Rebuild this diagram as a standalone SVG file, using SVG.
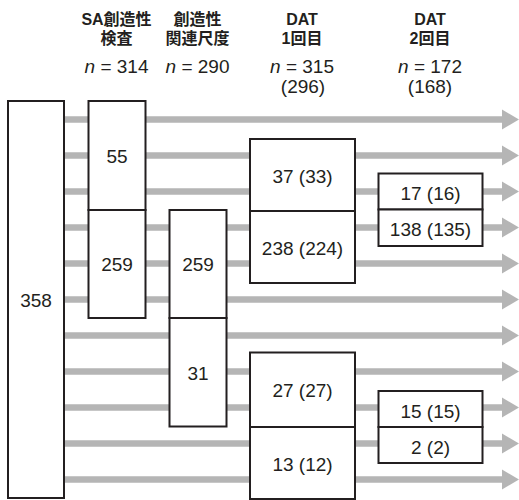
<svg xmlns="http://www.w3.org/2000/svg" width="519" height="500" viewBox="0 0 519 500">
<style>
.hd{font-family:"Liberation Sans","Noto Sans CJK JP",sans-serif;font-size:16px;font-weight:bold;fill:#231f20;text-anchor:middle}
.n{font-family:"Liberation Sans",sans-serif;font-size:19px;fill:#231f20;text-anchor:middle}
.lb{font-family:"Liberation Sans",sans-serif;font-size:19px;fill:#231f20;text-anchor:middle}
.bx{fill:#fff;stroke:#231f20;stroke-width:2}
.ln{stroke:#b5b5b5;stroke-width:6.5;fill:none;marker-end:url(#ah)}
</style>
<defs>
<marker id="ah" markerUnits="userSpaceOnUse" markerWidth="17" markerHeight="20" refX="0" refY="10" orient="auto" overflow="visible">
<path d="M0,0 L17,10 L0,20 Z" fill="#b5b5b5"/>
</marker>
</defs>
<rect width="519" height="500" fill="#fff"/>
<g id="headers">
<text class="hd" x="116.5" y="25">SA創造性</text>
<text class="hd" x="116.5" y="44">検査</text>
<text class="n" x="116.5" y="72.5"><tspan font-style="italic">n</tspan> = 314</text>
<text class="hd" x="197.5" y="25">創造性</text>
<text class="hd" x="197.5" y="44">関連尺度</text>
<text class="n" x="197.5" y="72.5"><tspan font-style="italic">n</tspan> = 290</text>
<text class="hd" x="302" y="25">DAT</text>
<text class="hd" x="302" y="44">1回目</text>
<text class="n" x="302" y="72.5"><tspan font-style="italic">n</tspan> = 315</text>
<text class="n" x="303" y="93">(296)</text>
<text class="hd" x="430" y="25">DAT</text>
<text class="hd" x="430" y="44">2回目</text>
<text class="n" x="430" y="72.5"><tspan font-style="italic">n</tspan> = 172</text>
<text class="n" x="430" y="93">(168)</text>
</g>
<g id="connectors">
<line class="ln" x1="64" y1="119.5" x2="502" y2="119.5"/>
<line class="ln" x1="64" y1="155.5" x2="502" y2="155.5"/>
<line class="ln" x1="64" y1="191.5" x2="502" y2="191.5"/>
<line class="ln" x1="64" y1="227.5" x2="502" y2="227.5"/>
<line class="ln" x1="64" y1="263.5" x2="502" y2="263.5"/>
<line class="ln" x1="64" y1="299.5" x2="502" y2="299.5"/>
<line class="ln" x1="64" y1="335.5" x2="502" y2="335.5"/>
<line class="ln" x1="64" y1="371.5" x2="502" y2="371.5"/>
<line class="ln" x1="64" y1="407.5" x2="502" y2="407.5"/>
<line class="ln" x1="64" y1="443.5" x2="502" y2="443.5"/>
<line class="ln" x1="64" y1="479.5" x2="502" y2="479.5"/>
</g>
<g id="n358"><rect class="bx" x="8" y="101" width="56" height="397"/><text class="lb" x="36" y="307">358</text></g>
<g id="n55"><rect class="bx" x="88.5" y="101" width="57" height="109"/><text class="lb" x="117" y="162.5">55</text></g>
<g id="n259a"><rect class="bx" x="88.5" y="210" width="57" height="108"/><text class="lb" x="117" y="271">259</text></g>
<g id="n259b"><rect class="bx" x="169.5" y="210" width="57" height="108"/><text class="lb" x="198" y="271">259</text></g>
<g id="n31"><rect class="bx" x="169.5" y="318" width="57" height="108.5"/><text class="lb" x="198" y="379.5">31</text></g>
<g id="n37"><rect class="bx" x="250" y="139" width="105" height="72"/><text class="lb" x="302.5" y="183">37 (33)</text></g>
<g id="n238"><rect class="bx" x="250" y="211" width="105" height="72"/><text class="lb" x="302.5" y="255">238 (224)</text></g>
<g id="n27"><rect class="bx" x="250" y="352.5" width="105" height="74.5"/><text class="lb" x="302.5" y="397">27 (27)</text></g>
<g id="n13"><rect class="bx" x="250" y="427" width="105" height="72"/><text class="lb" x="302.5" y="471">13 (12)</text></g>
<g id="n17"><rect class="bx" x="378.5" y="173.5" width="104" height="36"/><text class="lb" x="430.5" y="200">17 (16)</text></g>
<g id="n138"><rect class="bx" x="378.5" y="209.5" width="104" height="36.5"/><text class="lb" x="430.5" y="236">138 (135)</text></g>
<g id="n15"><rect class="bx" x="378.5" y="391" width="104" height="36"/><text class="lb" x="430.5" y="417.5">15 (15)</text></g>
<g id="n2"><rect class="bx" x="378.5" y="427" width="104" height="36"/><text class="lb" x="430.5" y="453.5">2 (2)</text></g>
</svg>
